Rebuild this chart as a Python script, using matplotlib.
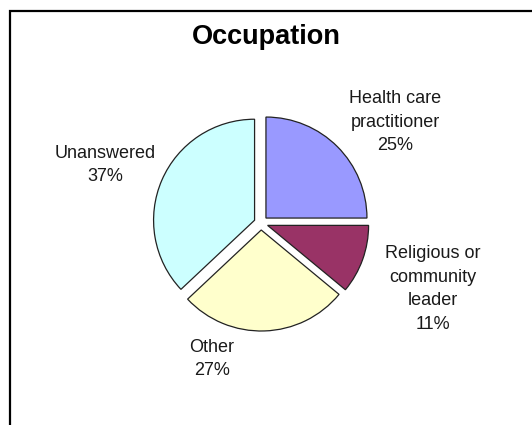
import numpy as np
import matplotlib
matplotlib.use("Agg")
import matplotlib.pyplot as plt
from matplotlib.patches import Rectangle

plt.rcParams['font.family'] = ['Liberation Sans', 'DejaVu Sans']

# Survey breakdown by occupation
categories = ["Health care\npractitioner", "Religious or\ncommunity\nleader",
              "Other", "Unanswered"]
shares = [25, 11, 27, 37]
colors = ["#9999FF", "#993366", "#FFFFCC", "#CCFFFF"]

# label centres in pixel space (x from left, y from bottom)
LABEL_POS = [(395, 303), (433, 136), (212, 66), (105, 260)]

W, H = 532, 425
fig = plt.figure(figsize=(W / 100, H / 100), dpi=100)
fig.patch.set_facecolor('white')
ax = fig.add_axes([0, 0, 1, 1])

# pie in pixel units; explode offsets are in the same units
wedges, _ = ax.pie(shares, colors=colors, startangle=90, counterclock=False,
                   center=(261, 202), radius=101, explode=[7] * 4,
                   wedgeprops=dict(edgecolor='#222222', linewidth=0.9),
                   frame=True)
ax.set_xlim(0, W)
ax.set_ylim(0, H)
ax.set_aspect('equal')
ax.axis('off')

# chart frame, runs off the right and bottom edges
ax.add_patch(Rectangle((10, -20), W + 40, H - 10 + 20 - 0.5, fill=False,
                       edgecolor='black', linewidth=1.6, zorder=1))

for name, pct, (lx, ly) in zip(categories, shares, LABEL_POS):
    ax.text(lx, ly, f"{name}\n{pct}%", ha='center', va='center',
            fontsize=13, color='#1a1a1a', linespacing=1.5)

ax.text(266, 388, "Occupation", ha='center', va='center',
        fontsize=19.5, fontweight='bold', color='black')

fig.savefig("out.png", dpi=100)
